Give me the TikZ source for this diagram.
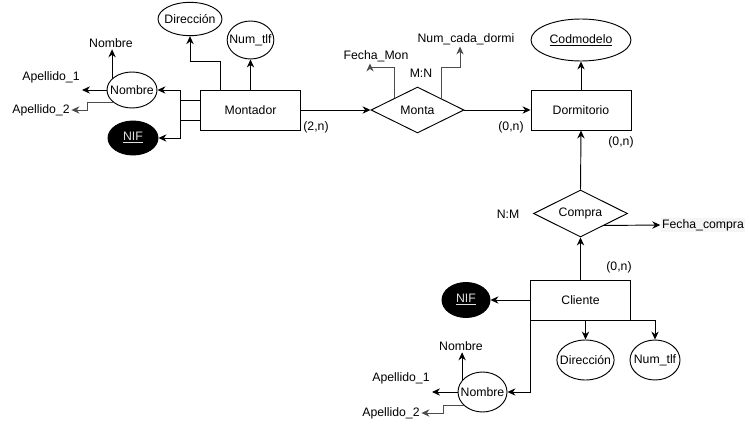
\documentclass[tikz,border=0pt]{standalone}
\usepackage{fontspec}
\setmainfont{Liberation Sans}
\usepackage{tikz}
\usetikzlibrary{shapes.geometric,arrows.meta}

\tikzset{
  entity/.style={draw, minimum width=75pt, minimum height=30pt, inner sep=0pt},
  attr/.style={draw, ellipse, inner xsep=-4pt, inner ysep=0pt},
  keyattr/.style={attr, fill=black, text=white!88!black},
  rel/.style={draw, diamond, aspect=2, inner sep=0pt},
  lbl/.style={inner sep=1pt},
  arr/.style={-{Stealth[length=6pt,width=5.5pt]}},
}

\begin{document}
\begin{tikzpicture}[x=0.75pt,y=0.75pt,yscale=-1,xscale=1,line width=0.7pt,font=\fontsize{9.2}{11}\selectfont]
\useasboundingbox (0,0) rectangle (750,428);

%Entities
\node[entity] (montador) at (250.5,110) {Montador};
\node[entity] (dorm) at (581,110) {Dormitorio};
\node[entity] (cliente) at (580.5,300) {Cliente};

%Relations
\node[rel, minimum width=69.75pt, minimum height=34.5pt] (monta) at (417.5,110) {Monta};
\node[rel, minimum width=70.5pt, minimum height=35.25pt] (compra) at (580.5,213.5) {Compra};

%Attributes Montador
\node[attr, minimum width=48pt, minimum height=25pt] (dir1) at (190,19) {Dirección};
\node[attr, minimum width=35pt, minimum height=28.5pt] (tlf1) at (250.5,40) {Num\_tlf};
\node[attr, minimum width=37.5pt, minimum height=27pt] (nom1) at (132,90) {Nombre};
\node[keyattr, minimum width=37.5pt, minimum height=25.5pt] (nif1) at (133,138) {\underline{NIF}};
\node[lbl] (nb1) at (111,43) {Nombre};
\node[lbl] (ap1) at (51,77) {Apellido\_1};
\node[lbl] (ap2) at (41,110) {Apellido\_2};
\coordinate (ap1end) at (82,90);

%Attributes Monta / Dormitorio
\node[lbl] (fmon) at (376,56) {Fecha\_Mon};
\node[lbl] (ncd) at (466,39) {Num\_cada\_dormi};
\node[lbl] (mn) at (421,73) {M:N};
\node[attr, minimum width=75pt, minimum height=31.5pt] (cod) at (581,40) {\underline{Codmodelo}};

%Attributes Compra / Cliente
\node[lbl] (nm) at (508,214) {N:M};
\node[lbl, fill=black!4] (fcom) at (703,225) {Fecha\_compra};
\node[keyattr, minimum width=36pt, minimum height=26.25pt] (nif2) at (466,300) {\underline{NIF}};
\node[attr, minimum width=38.25pt, minimum height=30pt] (dir2) at (585.5,360) {Dirección};
\node[attr, minimum width=37.5pt, minimum height=30pt] (tlf2) at (655,360) {Num\_tlf};
\node[attr, minimum width=36.75pt, minimum height=30pt] (nom2) at (482.5,392) {Nombre};
\node[lbl] (nb2) at (461,346) {Nombre};
\node[lbl] (ap3) at (401,378) {Apellido\_1};
\node[lbl] (ap4) at (391,413) {Apellido\_2};
\coordinate (ap3end) at (432,392);

%Cardinalities
\node[lbl] (c1) at (316,127) {(2,n)};
\node[lbl] (c2) at (511,127) {(0,n)};
\node[lbl] (c3) at (621,142) {(0,n)};
\node[lbl] (c4) at (619,267) {(0,n)};

%Connectors
\draw[arr] ([xshift=-22.5pt]montador.north) -- ++(0,-28) -| (dir1.south);
\draw[arr] (montador.north) -- (tlf1.south);
\draw[arr] ([yshift=7.5pt]montador.west) -- ++(-20,0) |- (nom1.east);
\draw[arr] ([yshift=-7.5pt]montador.west) -- ++(-20,0) |- (nif1.east);
\draw[arr] (nom1.150) -- (nom1.150 |- nb1.south);
\draw[arr] (nom1.west) -- (ap1end);
\draw[arr, black!70] (nom1.215) -- ++(-26,0) |- (ap2.east);

\draw[arr] (montador.east) -- (monta.west);
\draw[arr] (monta.east) -- (dorm.west);
\draw[arr, black!70] (monta.north west) -- ++(0,-31) -| ([xshift=-4.5pt]fmon.south);
\draw[arr, black!70] (monta.north east) -- ++(0,-31) -| ([xshift=-4.5pt]ncd.south);
\draw[arr] (dorm.north) -- (cod.south);

\draw[arr] (compra.north) -- (dorm.south);
\draw[arr] (cliente.north) -- (compra.south);
\draw[arr] (compra.south east) -- (fcom.west);

\draw[arr] (cliente.west) -- (nif2.east);
\draw[arr] (dir2 |- cliente.south) -- (dir2.north);
\draw[arr] (cliente.south east) -| (tlf2.north);
\draw[arr] (cliente.south west) |- (nom2.east);
\draw[arr] (nom2.150) -- (nom2.150 |- nb2.south);
\draw[arr] (nom2.west) -- (ap3end);
\draw[arr, black!70] (nom2.215) -- ++(-20,0) |- (ap4.east);
\end{tikzpicture}
\end{document}
